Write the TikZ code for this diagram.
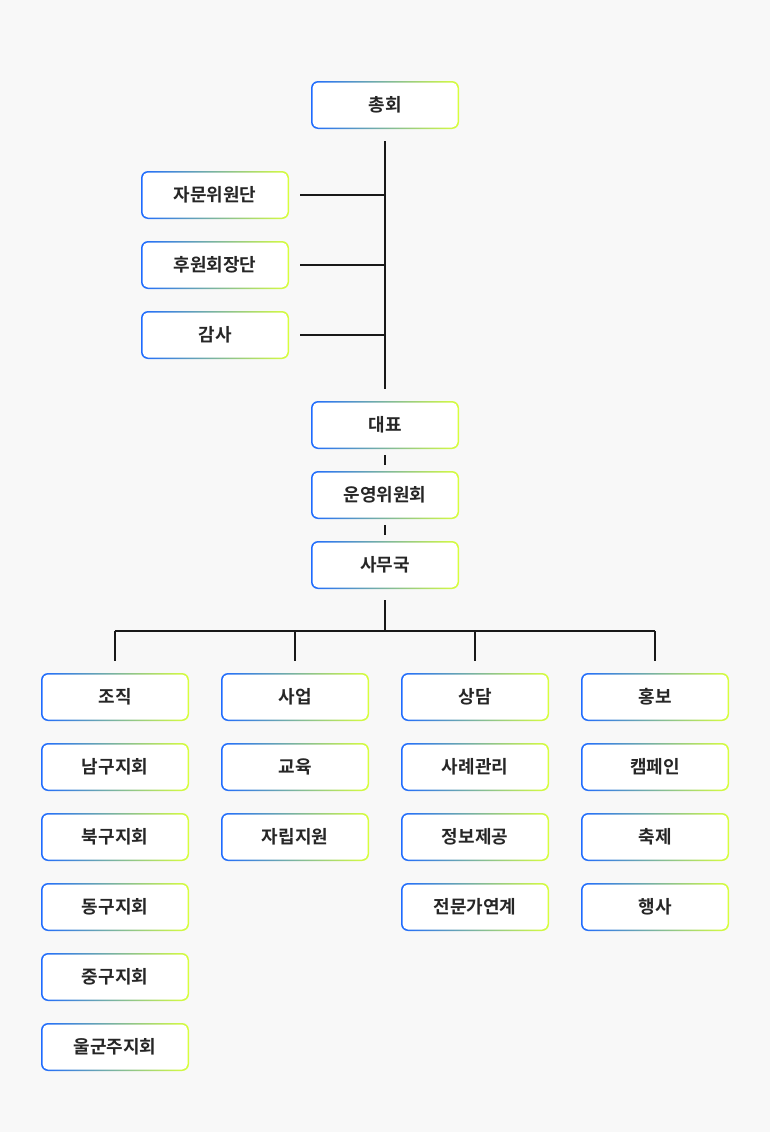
\documentclass[tikz,border=0pt]{standalone}
\usepackage{fontspec}
\setmainfont{Noto Sans CJK KR}[BoldFont={Noto Sans CJK KR Bold}]
\begin{document}
\definecolor{cb}{HTML}{1F6BFF}
\definecolor{cc}{HTML}{80EEF0}
\definecolor{cy}{HTML}{D9FF3C}
\definecolor{bg}{HTML}{F8F8F8}
\newcommand\mybx[4]{%
  \shade[rounded corners=7pt,left color=cb,middle color=cc,right color=cy]
    (#2-74,#3-24) rectangle (#2+74,#3+24);
  \fill[white,rounded corners=5.5pt] (#2-72.5,#3-22.5) rectangle (#2+72.5,#3+22.5);
  \node[box] (#1) at (#2,#3) {#4};}
\begin{tikzpicture}[x=1pt,y=-1pt,
  box/.style={minimum width=148pt,minimum height=48pt,inner sep=0pt,font=\bfseries\fontsize{18}{21}\selectfont,text=black!85},
  ln/.style={draw=black!90,line width=1.5pt}]
\fill[bg] (0,0) rectangle (770,1132);
\mybx{a}{385}{105}{총회}
\mybx{s1}{215}{195}{자문위원단}
\mybx{s2}{215}{265}{후원회장단}
\mybx{s3}{215}{335}{감사}
\mybx{b}{385}{425}{대표}
\mybx{c}{385}{495}{운영위원회}
\mybx{d}{385}{565}{사무국}
\coordinate (t1) at (385,141);
\coordinate (t2) at (385,389);
\draw[ln] (t1) -- (t2);
\foreach \n/\y in {s1/195,s2/265,s3/335}{\coordinate (j\n) at (385,\y); \draw[ln] ([xshift=11pt]\n.east) -- (j\n);}
\draw[ln] ([yshift=-6pt]b.south) -- ([yshift=6pt]c.north);
\draw[ln] ([yshift=-6pt]c.south) -- ([yshift=6pt]d.north);
\coordinate (h) at (385,631);
\draw[ln] ([yshift=-11pt]d.south) -- (h);
\coordinate (hl) at (115,631); \coordinate (hr) at (655,631);
\draw[ln] (hl) -- (hr);
\mybx{p1}{115}{697}{조직}
\mybx{p2}{115}{767}{남구지회}
\mybx{p3}{115}{837}{북구지회}
\mybx{p4}{115}{907}{동구지회}
\mybx{p5}{115}{977}{중구지회}
\mybx{p6}{115}{1047}{울군주지회}
\mybx{q1}{295}{697}{사업}
\mybx{q2}{295}{767}{교육}
\mybx{q3}{295}{837}{자립지원}
\mybx{r1}{475}{697}{상담}
\mybx{r2}{475}{767}{사례관리}
\mybx{r3}{475}{837}{정보제공}
\mybx{r4}{475}{907}{전문가연계}
\mybx{u1}{655}{697}{홍보}
\mybx{u2}{655}{767}{캠페인}
\mybx{u3}{655}{837}{축제}
\mybx{u4}{655}{907}{행사}
\foreach \n/\x in {p1/115,q1/295,r1/475,u1/655}{\coordinate (k\n) at (\x,631); \draw[ln] (k\n) -- ([yshift=12pt]\n.north);}
\end{tikzpicture}
\end{document}
